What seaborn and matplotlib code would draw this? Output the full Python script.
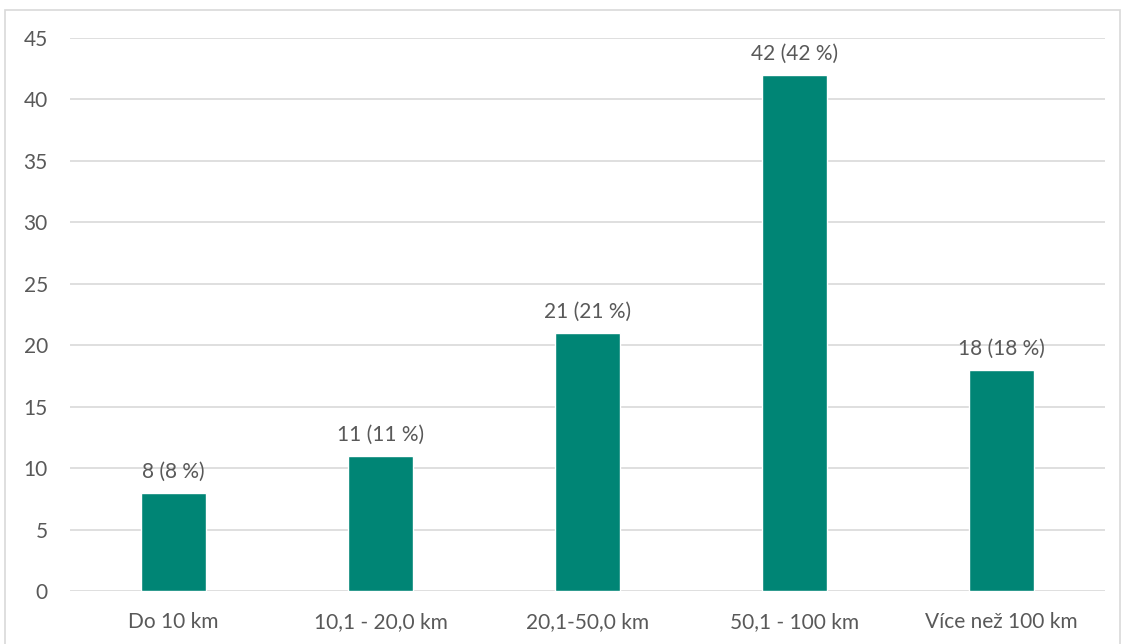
import matplotlib
matplotlib.use("Agg")
import matplotlib.pyplot as plt
import seaborn as sns
import pandas as pd
from matplotlib.patches import Rectangle

categories = ["Do 10 km", "10,1 - 20,0 km", "20,1-50,0 km", "50,1 - 100 km", "Více než 100 km"]
counts = [8, 11, 21, 42, 18]
percents = [8, 11, 21, 42, 18]

df = pd.DataFrame({"kategorie": categories, "pocet": counts})

sns.set_style("white")
plt.rcParams['font.family'] = ['Lato', 'DejaVu Sans']
text_color = "#595959"

W, H = 1121, 644
fig = plt.figure(figsize=(W / 100, H / 100), dpi=100)
ax = fig.add_axes([70 / W, 1 - 591 / H, 1035 / W, (591 - 38) / H])

sns.barplot(data=df, x="kategorie", y="pocet", color="#008575", width=0.315,
            saturation=1, ax=ax, zorder=3)

ax.set_ylim(0, 45)
ax.set_yticks(range(0, 46, 5))
ax.set_xlim(-0.5, len(categories) - 0.5)
ax.grid(axis="y", color="#D9D9D9", linewidth=1.2, zorder=0)
ax.set_axisbelow(True)
for s in ax.spines.values():
    s.set_visible(False)
ax.set_xlabel("")
ax.set_ylabel("")
ax.tick_params(axis="both", length=0, labelsize=15, colors=text_color)
ax.tick_params(axis="y", pad=16)
ax.tick_params(axis="x", pad=15)

for i, (c, p) in enumerate(zip(counts, percents)):
    ax.annotate(f"{c} ({p} %)", (i, c), xytext=(0, 8), textcoords="offset points",
                ha="center", va="bottom", fontsize=15, color=text_color)

# chart frame
fig.patches.append(Rectangle((5 / W, -0.01), (1120 - 5) / W, 1 - 10 / H + 0.01,
                             transform=fig.transFigure, fill=False,
                             edgecolor="#D9D9D9", linewidth=1.2))

fig.savefig("out.png", dpi=100)
